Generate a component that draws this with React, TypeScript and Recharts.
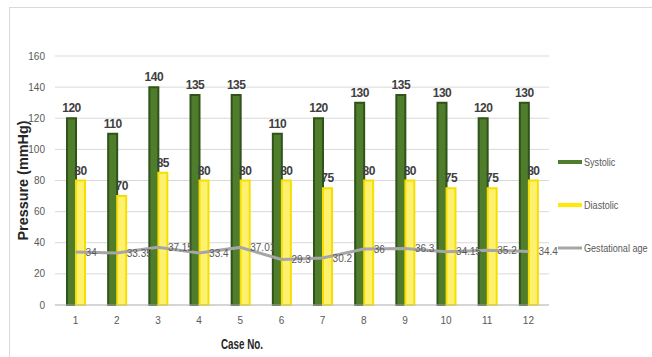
import React from "react";
import { ComposedChart, Bar, Line, XAxis, YAxis, CartesianGrid, LabelList } from "recharts";

const cases = ["1", "2", "3", "4", "5", "6", "7", "8", "9", "10", "11", "12"];
const systolic = [120, 110, 140, 135, 135, 110, 120, 130, 135, 130, 120, 130];
const diastolic = [80, 70, 85, 80, 80, 80, 75, 80, 80, 75, 75, 80];
const gestationalAge = [34, 33.35, 37.15, 33.4, 37.01, 29.3, 30.2, 36, 36.3, 34.15, 35.2, 34.4];
const yTicks = [0, 20, 40, 60, 80, 100, 120, 140, 160];

const data = cases.map((c, i) => ({
  caseNo: c,
  systolic: systolic[i],
  diastolic: diastolic[i],
  ga: gestationalAge[i],
}));

const FONT = "'Liberation Sans', Arial, sans-serif";
const GREEN = "#4f7d2c";
const GREEN_EDGE = "#2f5318";
const YELLOW = "#fff170";
const YELLOW_EDGE = "#f6df00";
const GREY_LINE = "#a6a6a6";
const TEXT = "#595959";

const legendItems = [
  { name: "Systolic", color: GREEN, kind: "bar" },
  { name: "Diastolic", color: "#ffea00", kind: "bar" },
  { name: "Gestational age", color: GREY_LINE, kind: "line" },
];

// legend sits to the right of the plot without taking space from it;
// text is squeezed horizontally to mimic a condensed face
function LegendBox() {
  return (
    <svg width={100} height={130} style={{ position: "absolute", left: 552, top: 141 }}>
      {legendItems.map((it, i) => {
        const cy = 21 + i * 43;
        return (
          <g key={it.name}>
            <rect x={6} y={cy - (it.kind === "bar" ? 2 : 1.5)} width={24} height={it.kind === "bar" ? 4 : 3} fill={it.color} />
            <g transform={`translate(32 ${cy}) scale(0.79 1)`}>
              <text x={0} y={0} dominantBaseline="central" fontSize={11.5} fill={TEXT} fontFamily={FONT}>
                {it.name}
              </text>
            </g>
          </g>
        );
      })}
    </svg>
  );
}

export default function App() {
  return (
    <div style={{ position: "absolute", left: 0, top: 0, width: 652, height: 357, background: "#fff" }}>
      {/* thin outer frame */}
      <div
        style={{
          position: "absolute",
          left: 9,
          top: 7,
          right: 0,
          bottom: 0,
          borderTop: "1px solid #d9d9d9",
          borderLeft: "1px solid #d9d9d9",
        }}
      />
      <ComposedChart
        width={652}
        height={357}
        data={data}
        margin={{ top: 56, right: 103, bottom: 22, left: 10 }}
        barGap={0}
        style={{ fontFamily: FONT }}
      >
        <CartesianGrid vertical={false} stroke="#d9d9d9" />
        <XAxis
          dataKey="caseNo"
          axisLine={{ stroke: "#bfbfbf" }}
          tickLine={false}
          height={30}
          tick={{ fontSize: 10, fill: TEXT }}
          tickMargin={6}
          label={(props: any) => {
            const vb = props.viewBox;
            return (
              <text
                x={242}
                y={vb.y + vb.height + 14}
                textAnchor="middle"
                fontSize={15}
                fontWeight="bold"
                fill="#262626"
                fontFamily={FONT}
                textLength={42}
                lengthAdjust="spacingAndGlyphs"
              >
                Case No.
              </text>
            );
          }}
        />
        <YAxis
          domain={[0, 160]}
          ticks={yTicks}
          width={45}
          axisLine={false}
          tickLine={false}
          tickMargin={4}
          tick={{ fontSize: 10, fill: TEXT }}
          label={(props: any) => {
            const vb = props.viewBox;
            const cy = vb.y + vb.height / 2;
            return (
              <text
                x={28}
                y={cy}
                transform={`rotate(-90 28 ${cy})`}
                textAnchor="middle"
                fontSize={15}
                fontWeight="bold"
                fill="#262626"
                fontFamily={FONT}
                textLength={120}
                lengthAdjust="spacingAndGlyphs"
              >
                Pressure (mmHg)
              </text>
            );
          }}
        />
        <Bar dataKey="systolic" name="Systolic" barSize={9} fill={GREEN} stroke={GREEN_EDGE} strokeWidth={2} isAnimationActive={false}>
          <LabelList dataKey="systolic" position="top" offset={6} fontSize={12} fontWeight="bold" fill="#404040" letterSpacing={-0.5} />
        </Bar>
        <Bar dataKey="diastolic" name="Diastolic" barSize={9} fill={YELLOW} stroke={YELLOW_EDGE} strokeWidth={2} isAnimationActive={false}>
          <LabelList dataKey="diastolic" position="top" offset={6} fontSize={12} fontWeight="bold" fill="#404040" letterSpacing={-0.5} />
        </Bar>
        <Line
          dataKey="ga"
          name="Gestational age"
          stroke={GREY_LINE}
          strokeWidth={3}
          dot={false}
          activeDot={false}
          isAnimationActive={false}
        >
          <LabelList dataKey="ga" position="right" offset={10} fontSize={10} fill={TEXT} />
        </Line>
      </ComposedChart>
      <LegendBox />
    </div>
  );
}
